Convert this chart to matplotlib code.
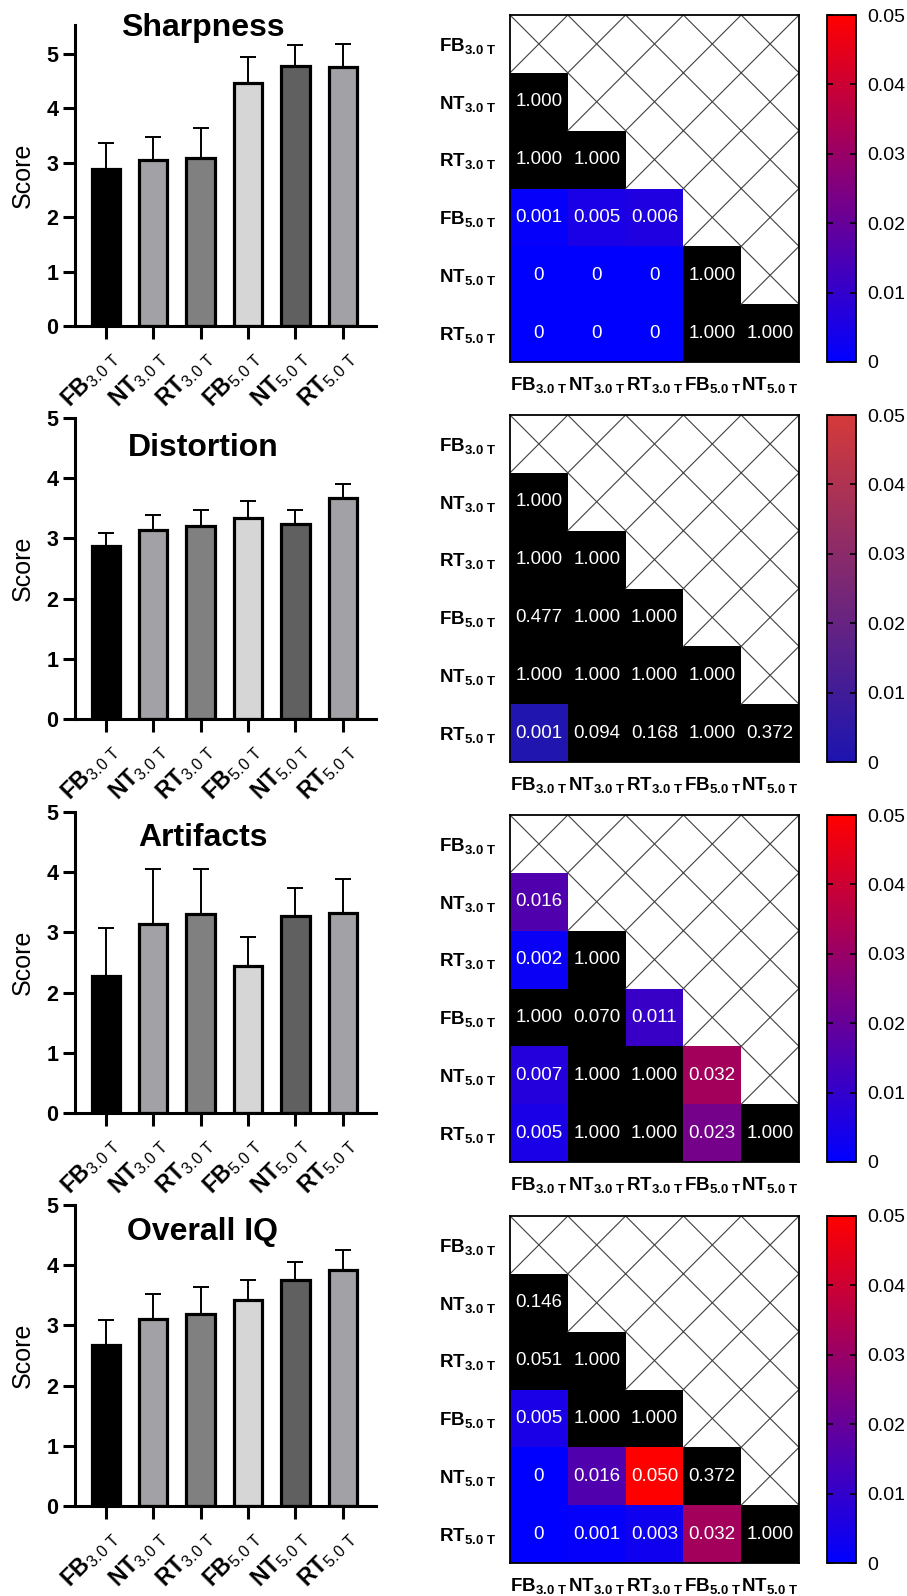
import numpy as np
import matplotlib
matplotlib.use('Agg')
import matplotlib.pyplot as plt
from matplotlib.colors import LinearSegmentedColormap

plt.rcParams['font.family'] = ['Liberation Sans', 'DejaVu Sans']
plt.rcParams['mathtext.fontset'] = 'custom'
plt.rcParams['mathtext.rm'] = 'Liberation Sans'
plt.rcParams['mathtext.bf'] = 'Liberation Sans:bold'

# groups
groups = ['FB', 'NT', 'RT', 'FB', 'NT', 'RT']
fields = ['3.0', '3.0', '3.0', '5.0', '5.0', '5.0']
bar_colors = ['#000000', '#a2a2a6', '#808080', '#d6d6d6', '#606060', '#a2a2a6']

titles = ['Sharpness', 'Distortion', 'Artifacts', 'Overall IQ']

# mean scores and SD (upper error bar only)
sharp_mean = [2.88, 3.05, 3.08, 4.47, 4.78, 4.75]
sharp_sd = [0.48, 0.43, 0.56, 0.48, 0.39, 0.43]
dist_mean = [2.88, 3.14, 3.21, 3.34, 3.24, 3.67]
dist_sd = [0.21, 0.25, 0.26, 0.28, 0.24, 0.24]
art_mean = [2.28, 3.14, 3.30, 2.44, 3.27, 3.33]
art_sd = [0.80, 0.92, 0.76, 0.49, 0.46, 0.55]
oiq_mean = [2.68, 3.11, 3.19, 3.43, 3.76, 3.92]
oiq_sd = [0.41, 0.41, 0.44, 0.33, 0.30, 0.33]

# pairwise p-values, lower triangle (rows NT3.0 .. RT5.0, cols FB3.0 .. NT5.0)
sharp_p = [[1.000],
           [1.000, 1.000],
           [0.001, 0.005, 0.006],
           [0, 0, 0, 1.000],
           [0, 0, 0, 1.000, 1.000]]
dist_p = [[1.000],
          [1.000, 1.000],
          [0.477, 1.000, 1.000],
          [1.000, 1.000, 1.000, 1.000],
          [0.001, 0.094, 0.168, 1.000, 0.372]]
art_p = [[0.016],
         [0.002, 1.000],
         [1.000, 0.070, 0.011],
         [0.007, 1.000, 1.000, 0.032],
         [0.005, 1.000, 1.000, 0.023, 1.000]]
oiq_p = [[0.146],
         [0.051, 1.000],
         [0.005, 1.000, 1.000],
         [0, 0.016, 0.050, 0.372],
         [0, 0.001, 0.003, 0.032, 1.000]]

ylims = [5.53, 5, 5, 5]
title_y = [0.99, 0.90, 0.913, 0.91]
means = [sharp_mean, dist_mean, art_mean, oiq_mean]
sds = [sharp_sd, dist_sd, art_sd, oiq_sd]
pvals = [sharp_p, dist_p, art_p, oiq_p]
cmap_ends = [('#0000ff', '#ff0000'), ('#1c14b0', '#d43a3a'),
             ('#0000ff', '#ff0000'), ('#0000ff', '#ff0000')]

W, H = 907, 1596
bar_tops = [25, 418, 812, 1205]
heat_tops = [15, 415, 815, 1216]

fig = plt.figure(figsize=(W / 100, H / 100), dpi=100)


def px_axes(x0, y0, w, h):
    return fig.add_axes([x0 / W, 1 - (y0 + h) / H, w / W, h / H])


bar_labels = [r'$\mathbf{%s}_{\mathrm{%s\ T}}$' % (g, f) for g, f in zip(groups, fields)]
heat_labels = [r'$\mathbf{%s}_{\mathbf{%s\ T}}$' % (g, f) for g, f in zip(groups, fields)]

for k in range(4):
    # bar chart
    ax = px_axes(75, bar_tops[k], 301, 301)
    x = np.arange(len(groups))
    ax.bar(x, means[k], width=0.6, color=bar_colors, edgecolor='black', linewidth=2.3, zorder=2)
    ax.errorbar(x, means[k], yerr=[np.zeros(6), sds[k]], fmt='none', ecolor='black',
                elinewidth=1.4, capsize=6, capthick=1.4, zorder=1)
    ax.set_xlim(-0.65, 5.7)
    ax.set_ylim(0, ylims[k])
    ax.set_yticks([0, 1, 2, 3, 4, 5])
    ax.set_xticks(x)
    ax.set_xticklabels(bar_labels, rotation=45, ha='right', rotation_mode='anchor', fontsize=16.5)
    for lab in ax.get_yticklabels():
        lab.set_fontweight('bold')
        lab.set_fontsize(15.5)
    ax.spines['top'].set_visible(False)
    ax.spines['right'].set_visible(False)
    ax.spines['left'].set_linewidth(2.2)
    ax.spines['bottom'].set_linewidth(2.2)
    ax.tick_params(axis='both', direction='out', length=9, width=2.2, pad=3)
    ax.tick_params(axis='x', pad=5)
    ax.set_ylabel('Score', fontsize=18, labelpad=8)
    ax.text(0.425, title_y[k], titles[k], transform=ax.transAxes, ha='center', va='center',
            fontsize=23, fontweight='bold')

    # heatmap
    hx = px_axes(510, heat_tops[k], 289, 347)
    n_rows, n_cols = 6, 5
    data = np.full((n_rows, n_cols), np.nan)
    for i, row in enumerate(pvals[k]):
        for j, v in enumerate(row):
            data[i + 1, j] = v
    cmap = LinearSegmentedColormap.from_list('p', list(cmap_ends[k]))
    cmap.set_over('black')
    cmap.set_bad('white')
    masked = np.ma.masked_invalid(data)
    mesh = hx.pcolormesh(masked, cmap=cmap, vmin=0, vmax=0.05)
    hx.set_xlim(0, n_cols)
    hx.set_ylim(n_rows, 0)
    for i in range(n_rows):
        for j in range(n_cols):
            v = data[i, j]
            if np.isnan(v):
                hx.plot([j, j + 1], [i, i + 1], color='#404040', lw=0.8)
                hx.plot([j, j + 1], [i + 1, i], color='#404040', lw=0.8)
            else:
                txt = '0' if v == 0 else '%.3f' % v
                hx.text(j + 0.5, i + 0.5, txt, ha='center', va='center', color='white', fontsize=13.5)
    hx.set_xticks(np.arange(n_cols) + 0.5)
    hx.set_xticklabels(heat_labels[:n_cols], fontsize=13.5)
    hx.set_yticks(np.arange(n_rows) + 0.5)
    hx.set_yticklabels(heat_labels, fontsize=13.5)
    hx.tick_params(length=0, pad=10)
    for s in hx.spines.values():
        s.set_linewidth(1.3)

    # colorbar
    cx = px_axes(827, heat_tops[k], 29, 347)
    cb = fig.colorbar(mesh, cax=cx, extend='neither')
    cb.set_ticks([0, 0.01, 0.02, 0.03, 0.04, 0.05])
    cb.set_ticklabels(['0', '0.01', '0.02', '0.03', '0.04', '0.05'])
    cx.tick_params(direction='in', left=True, right=True, length=4, width=1.2, labelsize=14, pad=8)
    cb.outline.set_linewidth(1.3)

fig.savefig('out.png', dpi=100)
